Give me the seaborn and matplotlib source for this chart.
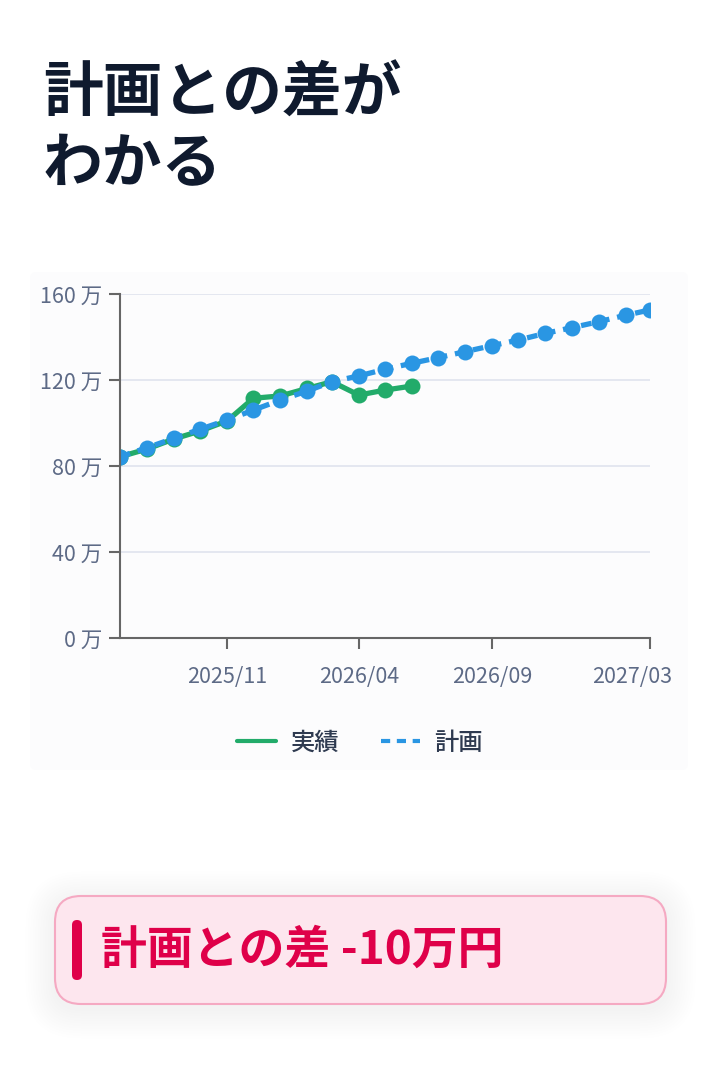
import pandas as pd
import numpy as np
import seaborn as sns
from matplotlib import pyplot as plt
from matplotlib.patches import FancyBboxPatch
from matplotlib.lines import Line2D
from matplotlib.transforms import ScaledTranslation
import matplotlib.dates as mdates

# monthly values (万円)
plan_months = ["2025-07", "2025-08", "2025-09", "2025-10", "2025-11", "2025-12",
               "2026-01", "2026-02", "2026-03", "2026-04", "2026-05", "2026-06",
               "2026-07", "2026-08", "2026-09", "2026-10", "2026-11", "2026-12",
               "2027-01", "2027-02", "2027-03"]
plan_values = [84.3, 88.5, 92.9, 97.1, 101.4, 106.0, 110.7, 114.9, 119.2, 121.9, 125.0,
               127.8, 130.4, 133.2, 136.0, 138.6, 141.7, 144.3, 147.1, 150.1, 152.6]
actual_values = [84.3, 87.9, 92.6, 96.3, 101.0, 111.5, 112.6, 116.1, 119.2, 113.0, 115.3, 117.2]

y_ticks = [0, 40, 80, 120, 160]
x_ticks = ["2025-11", "2026-04", "2026-09", "2027-03"]

series_names = ["実績", "計画"]
colors = {"実績": "#22ab6a", "計画": "#2a96e3"}

diff_text = "計画との差 -10万円"
title_text = "計画との差が\nわかる"

df_plan = pd.DataFrame({"month": pd.to_datetime(plan_months), "value": plan_values, "series": "計画"})
df_act = pd.DataFrame({"month": pd.to_datetime(plan_months[:len(actual_values)]),
                       "value": actual_values, "series": "実績"})
df = pd.concat([df_act, df_plan], ignore_index=True)

sns.set_theme(style="white")
plt.rcParams["font.family"] = ["Noto Sans CJK JP", "DejaVu Sans"]

fig = plt.figure(figsize=(7.2, 10.8), dpi=100)
fig.patch.set_facecolor("white")

# background layer in pixel coords
bg = fig.add_axes([0, 0, 1, 1], zorder=0)
bg.set_xlim(0, 720)
bg.set_ylim(1080, 0)
bg.axis("off")

bg.add_patch(FancyBboxPatch((30, 272), 658, 498, boxstyle="round,pad=0,rounding_size=6",
                            fc="#fcfcfd", ec="none"))

# soft shadow + diff box
for i in range(12):
    g = 2 + i * 2.5
    bg.add_patch(FancyBboxPatch((55 - g, 896 - g + 5), 611 + 2 * g, 108 + 2 * g,
                                boxstyle="round,pad=0,rounding_size=%d" % (26 + g),
                                fc="#000000", ec="none", alpha=0.0035))
bg.add_patch(FancyBboxPatch((55, 896), 611, 108, boxstyle="round,pad=0,rounding_size=26",
                            fc="#fde6ee", ec="#f5a9c2", lw=1.5))
bg.add_patch(FancyBboxPatch((72, 920), 10, 60, boxstyle="round,pad=0,rounding_size=5",
                            fc="#df0049", ec="none"))
bg.text(101, 951, diff_text, fontsize=33, fontweight="bold", color="#df0049",
        va="center", ha="left")

bg.text(43, 130, title_text, fontsize=43, fontweight="bold", color="#0f1a2e",
        va="center", ha="left", linespacing=1.22)

# chart
ax = fig.add_axes([120 / 720, 1 - 638 / 1080, 530 / 720, 344 / 1080], zorder=1)
ax.patch.set_alpha(0)
sns.lineplot(data=df, x="month", y="value", hue="series", style="series",
             hue_order=series_names, style_order=series_names, palette=colors,
             dashes={"実績": "", "計画": (2.0, 1.5)}, markers={"実績": "o", "計画": "o"},
             markersize=11.5, markeredgewidth=0, linewidth=3.8, legend=False, ax=ax)

ax.set_ylim(0, 160)
ax.set_xlim(pd.Timestamp("2025-07-01"), pd.Timestamp("2027-03-01"))
ax.set_yticks(y_ticks)
ax.set_yticklabels([f"{v} 万" for v in y_ticks])
ax.set_xticks(pd.to_datetime(x_ticks))
ax.xaxis.set_major_formatter(mdates.DateFormatter("%Y/%m"))
ax.set_xlabel("")
ax.set_ylabel("")

ax.grid(axis="y", color="#e2e5ef", lw=1.3)
ax.set_axisbelow(True)
for s in ["top", "right"]:
    ax.spines[s].set_visible(False)
for s in ["left", "bottom"]:
    ax.spines[s].set_color("#666666")
    ax.spines[s].set_linewidth(1.5)
ax.tick_params(axis="both", length=8, width=1.5, color="#666666", labelcolor="#5d6a86",
               labelsize=15.5, left=True, bottom=True)
ax.tick_params(axis="x", pad=12)
ax.tick_params(axis="y", pad=5)

# keep the last date label inside the panel
fig.canvas.draw()
last = ax.get_xticklabels()[-1]
last.set_transform(last.get_transform() + ScaledTranslation(-0.18, 0, fig.dpi_scale_trans))

handles = [Line2D([0], [0], color=colors["実績"], lw=3),
           Line2D([0], [0], color=colors["計画"], lw=3, dashes=(2.2, 1.6))]
fig.legend(handles, series_names, loc="center", bbox_to_anchor=(0.5, 1 - 743 / 1080),
           ncol=2, frameon=False, handlelength=1.6, handletextpad=0.6, columnspacing=1.7,
           labelcolor="#2e3a50", prop={"size": 17.5, "weight": "medium"})

plt.savefig("out.png", dpi=100)
